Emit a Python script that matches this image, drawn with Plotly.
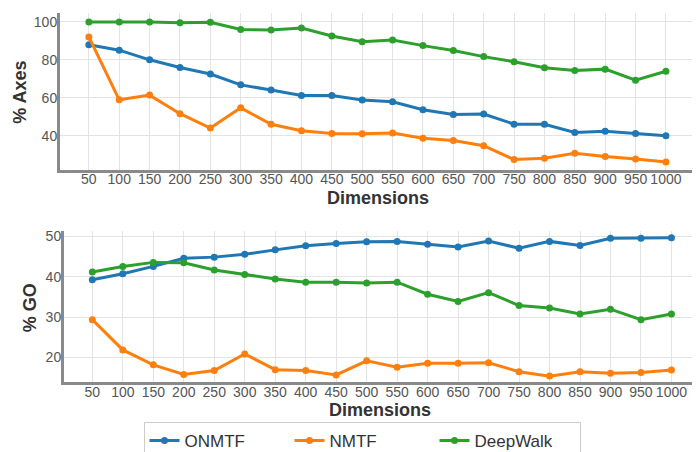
import plotly.graph_objects as go

dims = ["50", "100", "150", "200", "250", "300", "350", "400", "450", "500",
        "550", "600", "650", "700", "750", "800", "850", "900", "950", "1000"]

axes_onmtf = [88, 85.1, 80, 76, 72.5, 66.8, 64.1, 61.2, 61.2, 58.8,
              57.9, 53.7, 51.2, 51.4, 46.1, 46, 41.7, 42.3, 41.1, 40]
axes_nmtf = [92.1, 58.9, 61.4, 51.6, 44, 54.7, 46, 42.6, 41.2, 41,
             41.4, 38.6, 37.5, 34.7, 27.4, 28.1, 30.7, 29, 27.7, 26.1]
axes_deepwalk = [100, 100, 100, 99.5, 99.8, 96, 95.7, 96.8, 92.6, 89.6,
                 90.5, 87.5, 84.9, 81.7, 79, 75.8, 74.4, 75.1, 69.3, 74]

go_onmtf = [39.3, 40.8, 42.6, 44.6, 44.9, 45.6, 46.7, 47.7, 48.3, 48.7,
            48.8, 48.1, 47.4, 48.9, 47.1, 48.8, 47.8, 49.6, 49.6, 49.7]
go_nmtf = [29.4, 21.9, 18.2, 15.8, 16.8, 20.9, 17, 16.8, 15.7, 19.2,
           17.6, 18.6, 18.6, 18.7, 16.5, 15.4, 16.5, 16.1, 16.3, 16.9]
go_deepwalk = [41.2, 42.6, 43.6, 43.5, 41.7, 40.6, 39.5, 38.7, 38.7, 38.5,
               38.7, 35.7, 33.9, 36.1, 32.9, 32.3, 30.8, 32, 29.4, 30.8]

names = ["ONMTF", "NMTF", "DeepWalk"]
colors = ["#1f77b4", "#ff7f0e", "#2ca02c"]

W, H = 700, 452
FONT = "Liberation Sans, Arial, sans-serif"


def px(x):
    return x / W


def py(y):
    return 1 - y / H


fig = go.Figure()
for name, col, ya, yg in zip(names, colors,
                             [axes_onmtf, axes_nmtf, axes_deepwalk],
                             [go_onmtf, go_nmtf, go_deepwalk]):
    fig.add_trace(go.Scatter(x=dims, y=ya, name=name, mode="lines+markers",
                             line=dict(color=col, width=3),
                             marker=dict(color=col, size=7),
                             xaxis="x", yaxis="y", showlegend=True))
    fig.add_trace(go.Scatter(x=dims, y=yg, name=name, mode="lines+markers",
                             line=dict(color=col, width=3),
                             marker=dict(color=col, size=7),
                             xaxis="x2", yaxis="y2", showlegend=False))

axis_common = dict(showgrid=True, gridcolor="#e3e3e3", gridwidth=1,
                   showline=True, linecolor="#8a8a8a", linewidth=3,
                   ticks="", zeroline=False, mirror=False, automargin=False,
                   tickangle=0,
                   tickfont=dict(family=FONT, size=14, color="#555555"))

fig.update_layout(
    width=W, height=H,
    margin=dict(l=0, r=0, t=0, b=0),
    paper_bgcolor="white", plot_bgcolor="white",
    font=dict(family=FONT),
    xaxis=dict(domain=[px(52), px(688)], type="category",
               range=[-0.95, 19.99], anchor="y", ticklabelstandoff=-5,
               **axis_common),
    yaxis=dict(domain=[py(162), py(5)], range=[22.1, 104.7],
               tickvals=[40, 60, 80, 100], anchor="x", ticklabelstandoff=-3,
               **axis_common),
    xaxis2=dict(domain=[px(56), px(693)], type="category",
                range=[-0.93, 19.97], anchor="y2", ticklabelstandoff=-5,
                **axis_common),
    yaxis2=dict(domain=[py(375), py(223)], range=[13.9, 51.5],
                tickvals=[20, 30, 40, 50], anchor="x2", ticklabelstandoff=-3,
                **axis_common),
    legend=dict(orientation="h", x=px(354), xanchor="center",
                y=py(434), yanchor="middle",
                bordercolor="#cccccc", borderwidth=1, bgcolor="white",
                font=dict(family=FONT, size=17, color="#333333"),
                entrywidth=100, entrywidthmode="pixels"),
    showlegend=True,
)

title_font = dict(family=FONT, size=18, color="#333333")
annos = [
    dict(text="<b>% Axes</b>", x=px(12), y=py(85), textangle=-90),
    dict(text="<b>% GO</b>", x=px(22), y=py(301), textangle=-90),
    dict(text="<b>Dimensions</b>", x=px(370), y=py(190), textangle=0),
    dict(text="<b>Dimensions</b>", x=px(372), y=py(403), textangle=0),
]
for a in annos:
    fig.add_annotation(xref="paper", yref="paper", showarrow=False,
                       xanchor="center", yanchor="middle", font=title_font, **a)

fig.write_html("out.html")
